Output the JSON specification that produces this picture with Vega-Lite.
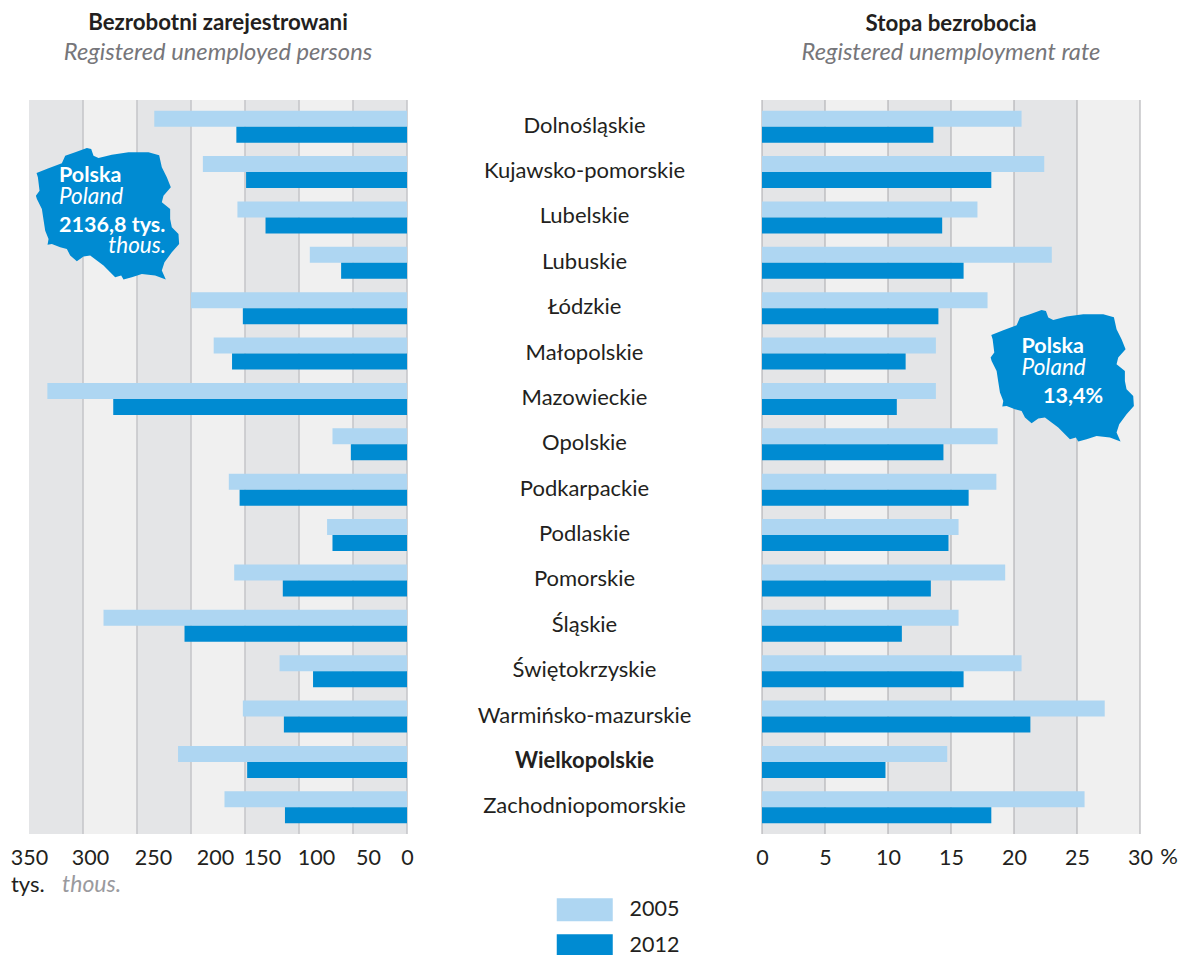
{"$schema":"https://vega.github.io/schema/vega-lite/v6.json","background":"white","padding":{"left":10,"top":12,"right":0,"bottom":0},"bounds":"flush","spacing":0,
"config":{"font":"Lato","view":{"stroke":null},"text":{"font":"Lato"},"title":{"font":"Lato","subtitleFont":"Lato"}},
"datasets":{"rows":[
{"region":"Dolnośląskie","year":"2005","persons":234,"rate":20.6},{"region":"Dolnośląskie","year":"2012","persons":158,"rate":13.6},
{"region":"Kujawsko-pomorskie","year":"2005","persons":189,"rate":22.4},{"region":"Kujawsko-pomorskie","year":"2012","persons":149,"rate":18.2},
{"region":"Lubelskie","year":"2005","persons":157,"rate":17.1},{"region":"Lubelskie","year":"2012","persons":131,"rate":14.3},
{"region":"Lubuskie","year":"2005","persons":90,"rate":23.0},{"region":"Lubuskie","year":"2012","persons":61,"rate":16.0},
{"region":"Łódzkie","year":"2005","persons":200,"rate":17.9},{"region":"Łódzkie","year":"2012","persons":152,"rate":14.0},
{"region":"Małopolskie","year":"2005","persons":179,"rate":13.8},{"region":"Małopolskie","year":"2012","persons":162,"rate":11.4},
{"region":"Mazowieckie","year":"2005","persons":333,"rate":13.8},{"region":"Mazowieckie","year":"2012","persons":272,"rate":10.7},
{"region":"Opolskie","year":"2005","persons":69,"rate":18.7},{"region":"Opolskie","year":"2012","persons":52,"rate":14.4},
{"region":"Podkarpackie","year":"2005","persons":165,"rate":18.6},{"region":"Podkarpackie","year":"2012","persons":155,"rate":16.4},
{"region":"Podlaskie","year":"2005","persons":74,"rate":15.6},{"region":"Podlaskie","year":"2012","persons":69,"rate":14.8},
{"region":"Pomorskie","year":"2005","persons":160,"rate":19.3},{"region":"Pomorskie","year":"2012","persons":115,"rate":13.4},
{"region":"Śląskie","year":"2005","persons":281,"rate":15.6},{"region":"Śląskie","year":"2012","persons":206,"rate":11.1},
{"region":"Świętokrzyskie","year":"2005","persons":118,"rate":20.6},{"region":"Świętokrzyskie","year":"2012","persons":87,"rate":16.0},
{"region":"Warmińsko-mazurskie","year":"2005","persons":152,"rate":27.2},{"region":"Warmińsko-mazurskie","year":"2012","persons":114,"rate":21.3},
{"region":"Wielkopolskie","year":"2005","persons":212,"rate":14.7},{"region":"Wielkopolskie","year":"2012","persons":148,"rate":9.8},
{"region":"Zachodniopomorskie","year":"2005","persons":169,"rate":25.6},{"region":"Zachodniopomorskie","year":"2012","persons":113,"rate":18.2}
]},
"hconcat":[
{"width":378,"height":734,
"title":{"text":"Bezrobotni zarejestrowani","subtitle":"Registered unemployed persons","anchor":"middle","fontSize":22.3,"fontWeight":"bold","color":"#231f20","subtitleFontSize":23.7,"subtitleFontStyle":"italic","subtitleColor":"#76767a","subtitlePadding":6,"offset":35},
"view":{"fill":"#f0f0f0","stroke":null},
"resolve":{"scale":{"y":"independent"}},
"layer":[
{"data":{"values":[{"a":350,"b":300},{"a":250,"b":200},{"a":150,"b":100},{"a":50,"b":0}]},"mark":{"type":"rect","fill":"#e4e5e7"},
"encoding":{"x":{"field":"a","type":"quantitative","scale":{"domain":[0,350],"reverse":true,"nice":false},
"axis":{"title":null,"values":[350,300,250,200,150,100,50,0],"grid":false,"domain":false,"ticks":false,"labelFontSize":21.5,"labelColor":"#231f20","labelPadding":13,"labelAngle":0,"labelAlign":"center","labelOverlap":false,"labelFlush":false,
"labelOffset":{"condition":[{"test":"datum.value==300","value":7},{"test":"datum.value==250","value":16},{"test":"datum.value==200","value":24},{"test":"datum.value==150","value":17},{"test":"datum.value==100","value":17},{"test":"datum.value==50","value":15}],"value":0}}},"x2":{"field":"b"}}},
{"data":{"values":[{"v":0},{"v":50},{"v":100},{"v":150},{"v":200},{"v":250},{"v":300}]},"mark":{"type":"rule","color":"#c4c4c8","strokeWidth":1.5},
"encoding":{"x":{"field":"v","type":"quantitative"}}},
{"data":{"name":"rows"},"mark":{"type":"bar"},
"encoding":{"y":{"field":"region","type":"nominal","sort":null,"axis":null,"scale":{"paddingInner":0.295,"paddingOuter":0.236}},
"yOffset":{"field":"year","type":"nominal","scale":{"paddingInner":0,"paddingOuter":0}},
"x":{"field":"persons","type":"quantitative"},
"color":{"field":"year","type":"nominal","scale":{"domain":["2005","2012"],"range":["#aed6f2","#008bd2"]},
"legend":{"orient":"none","legendX":545,"legendY":799,"title":null,"symbolType":"M-28,-11.5H28V11.5H-28Z","symbolSize":4,"symbolStrokeWidth":0,"symbolOpacity":1,"labelFontSize":21.5,"labelColor":"#231f20","labelOffset":34,"rowPadding":12,"direction":"vertical"}}}},
{"data":{"values":[{"name":"Polska","x":277.3,"y":2.47}]},"mark":{"type":"point","filled":true,"opacity":1,"fill":"#008bd2","strokeWidth":0,"size":0.444,"shape":"M-213,-121L-177,-135L-137,-150L-127,-173L-97,-183L-62,-196L-49,-193L-42,-173L-27,-166L13,-176L63,-183L123,-183L155,-174L163,-138L178,-108L190,-78L168,-53L163,-33L188,-13L188,17L193,42L213,62L215,92L193,117L171,147L163,172L175,199L143,187L103,182L73,192L48,199L41,187L23,192L8,177L-12,157L-32,142L-52,127L-72,130L-92,144L-112,127L-122,107L-142,102L-167,92L-180,94L-177,77L-187,52L-192,20L-197,-13L-212,-43L-215,-53L-204,-68L-209,-108Z"},
"encoding":{"x":{"field":"x","type":"quantitative"},"y":{"field":"y","type":"quantitative","scale":{"domain":[0,16],"reverse":true,"nice":false},"axis":null}}},
{"data":{"values":[{"t":"Polska","x":322.2,"y":1.78,"a":"left"},{"t":"2136,8 tys.","x":322.2,"y":2.87,"a":"left"}]},"mark":{"type":"text","fontWeight":"bold","fontSize":21.5,"color":"white","align":"left","baseline":"alphabetic"},
"encoding":{"text":{"field":"t"},"x":{"field":"x","type":"quantitative"},"y":{"field":"y","type":"quantitative","scale":{"domain":[0,16],"reverse":true,"nice":false},"axis":null}}},
{"data":{"values":[{"t":"Poland","x":322.2,"y":2.26}]},"mark":{"type":"text","fontStyle":"italic","fontSize":22.5,"color":"white","align":"left","baseline":"alphabetic"},
"encoding":{"text":{"field":"t"},"x":{"field":"x","type":"quantitative"},"y":{"field":"y","type":"quantitative","scale":{"domain":[0,16],"reverse":true,"nice":false},"axis":null}}},
{"data":{"values":[{"t":"thous.","x":223.1,"y":3.34}]},"mark":{"type":"text","fontStyle":"italic","fontSize":22.5,"color":"white","align":"right","baseline":"alphabetic"},
"encoding":{"text":{"field":"t"},"x":{"field":"x","type":"quantitative"},"y":{"field":"y","type":"quantitative","scale":{"domain":[0,16],"reverse":true,"nice":false},"axis":null}}},
{"data":{"values":[{"t":"tys.","x":366.7,"y":17.26}]},"mark":{"type":"text","fontSize":22,"color":"#231f20","align":"left","baseline":"alphabetic"},
"encoding":{"text":{"field":"t"},"x":{"field":"x","type":"quantitative"},"y":{"field":"y","type":"quantitative","scale":{"domain":[0,16],"reverse":true,"nice":false},"axis":null}}},
{"data":{"values":[{"t":"thous.","x":319.4,"y":17.26}]},"mark":{"type":"text","fontSize":23,"fontStyle":"italic","color":"#9a9a9e","align":"left","baseline":"alphabetic"},
"encoding":{"text":{"field":"t"},"x":{"field":"x","type":"quantitative"},"y":{"field":"y","type":"quantitative","scale":{"domain":[0,16],"reverse":true,"nice":false},"axis":null}}}
]},
{"width":355,"height":734,"data":{"name":"rows"},"transform":[{"filter":"datum.year==='2005'"}],
"layer":[
{"transform":[{"filter":"datum.region!=='Wielkopolskie'"}],"mark":{"type":"text","fontSize":22,"color":"#231f20","dy":-1},"encoding":{"text":{"field":"region"},"y":{"field":"region","type":"nominal","axis":null,"scale":{"type":"band","domain":["Dolnośląskie","Kujawsko-pomorskie","Lubelskie","Lubuskie","Łódzkie","Małopolskie","Mazowieckie","Opolskie","Podkarpackie","Podlaskie","Pomorskie","Śląskie","Świętokrzyskie","Warmińsko-mazurskie","Wielkopolskie","Zachodniopomorskie"],"paddingInner":0.295,"paddingOuter":0.236}}}},
{"transform":[{"filter":"datum.region==='Wielkopolskie'"}],"mark":{"type":"text","fontSize":22,"fontWeight":"bold","color":"#231f20","dy":-1},"encoding":{"text":{"field":"region"},"y":{"field":"region","type":"nominal","axis":null}}}
]},
{"width":378,"height":734,
"title":{"text":"Stopa bezrobocia","subtitle":"Registered unemployment rate","anchor":"middle","fontSize":22.3,"fontWeight":"bold","color":"#231f20","subtitleFontSize":23.7,"subtitleFontStyle":"italic","subtitleColor":"#76767a","subtitlePadding":6,"offset":35},
"view":{"fill":"#f0f0f0","stroke":null},
"resolve":{"scale":{"y":"independent"}},
"layer":[
{"data":{"values":[{"a":0,"b":5},{"a":10,"b":15},{"a":20,"b":25}]},"mark":{"type":"rect","fill":"#e4e5e7"},
"encoding":{"x":{"field":"a","type":"quantitative","scale":{"domain":[0,30],"nice":false},
"axis":{"title":null,"values":[0,5,10,15,20,25,30],"grid":false,"domain":false,"ticks":false,"labelFontSize":21.5,"labelColor":"#231f20","labelPadding":13,"labelAngle":0,"labelAlign":"center","labelFlush":false}},"x2":{"field":"b"}}},
{"data":{"values":[{"v":0},{"v":5},{"v":10},{"v":15},{"v":20},{"v":25},{"v":30}]},"mark":{"type":"rule","color":"#a8a8ac","strokeWidth":1},
"encoding":{"x":{"field":"v","type":"quantitative"}}},
{"data":{"name":"rows"},"mark":{"type":"bar"},
"encoding":{"y":{"field":"region","type":"nominal","sort":null,"axis":null,"scale":{"paddingInner":0.295,"paddingOuter":0.236}},
"yOffset":{"field":"year","type":"nominal","scale":{"paddingInner":0,"paddingOuter":0}},
"x":{"field":"rate","type":"quantitative"},
"color":{"field":"year","type":"nominal","scale":{"domain":["2005","2012"],"range":["#aed6f2","#008bd2"]},"legend":null}}},
{"data":{"values":[{"name":"Polska","x":23.83,"y":6.0}]},"mark":{"type":"point","filled":true,"opacity":1,"fill":"#008bd2","strokeWidth":0,"size":0.444,"shape":"M-213,-121L-177,-135L-137,-150L-127,-173L-97,-183L-62,-196L-49,-193L-42,-173L-27,-166L13,-176L63,-183L123,-183L155,-174L163,-138L178,-108L190,-78L168,-53L163,-33L188,-13L188,17L193,42L213,62L215,92L193,117L171,147L163,172L175,199L143,187L103,182L73,192L48,199L41,187L23,192L8,177L-12,157L-32,142L-52,127L-72,130L-92,144L-112,127L-122,107L-142,102L-167,92L-180,94L-177,77L-187,52L-192,20L-197,-13L-212,-43L-215,-53L-204,-68L-209,-108Z"},
"encoding":{"x":{"field":"x","type":"quantitative"},"y":{"field":"y","type":"quantitative","scale":{"domain":[0,16],"reverse":true,"nice":false},"axis":null}}},
{"data":{"values":[{"t":"Polska","x":20.6,"y":5.515},{"t":"13,4%","x":22.3,"y":6.6}]},"mark":{"type":"text","fontWeight":"bold","fontSize":21.5,"color":"white","align":"left","baseline":"alphabetic"},
"encoding":{"text":{"field":"t"},"x":{"field":"x","type":"quantitative"},"y":{"field":"y","type":"quantitative","scale":{"domain":[0,16],"reverse":true,"nice":false},"axis":null}}},
{"data":{"values":[{"t":"Poland","x":20.6,"y":6.0}]},"mark":{"type":"text","fontStyle":"italic","fontSize":22.5,"color":"white","align":"left","baseline":"alphabetic"},
"encoding":{"text":{"field":"t"},"x":{"field":"x","type":"quantitative"},"y":{"field":"y","type":"quantitative","scale":{"domain":[0,16],"reverse":true,"nice":false},"axis":null}}},
{"data":{"values":[{"t":"%","x":31.6,"y":16.66}]},"mark":{"type":"text","fontSize":22,"color":"#231f20","align":"left","baseline":"alphabetic"},
"encoding":{"text":{"field":"t"},"x":{"field":"x","type":"quantitative"},"y":{"field":"y","type":"quantitative","scale":{"domain":[0,16],"reverse":true,"nice":false},"axis":null}}}
]}
]}
